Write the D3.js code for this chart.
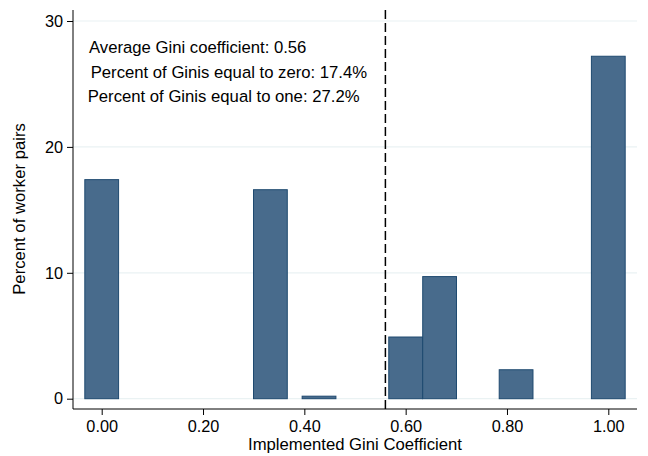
<!DOCTYPE html>
<html>
<head>
<meta charset="utf-8">
<script src="https://cdn.jsdelivr.net/npm/d3@7"></script>
<style>
  html, body { margin: 0; padding: 0; background: #fff; }
  svg text { font-family: "Liberation Sans", Arial, sans-serif; fill: #000; }
</style>
</head>
<body>
<svg id="chart" width="648" height="456"></svg>
<script>
// discrete Gini values and share of worker pairs (percent)
let giniValues = [0, 0.333, 0.429, 0.6, 0.667, 0.818, 1.0];
let percents = [17.4, 16.6, 0.2, 4.9, 9.7, 2.3, 27.2];

let xTicks = [0, 0.2, 0.4, 0.6, 0.8, 1.0];
let yTicks = [0, 10, 20, 30];

let meanGini = 0.56;
let notes = [
  'Average Gini coefficient: 0.56',
  'Percent of Ginis equal to zero: 17.4%',
  'Percent of Ginis equal to one: 27.2%'
];

// histogram bar width in data units
let binWidth = 1 / 15;

let svg = d3.select('#chart');

// plot region (pixels)
let plotL = 73, plotR = 637, plotT = 10, plotB = 409;

let x = d3.scaleLinear().domain([0, 1]).range([101.7, 608.3]);
let y = d3.scaleLinear().domain([0, 30]).range([398.7, 21]);

// gridlines
svg.append('g')
  .selectAll('line')
  .data(yTicks)
  .join('line')
  .attr('x1', plotL).attr('x2', plotR)
  .attr('y1', d => y(d)).attr('y2', d => y(d))
  .attr('stroke', '#eaf2f3')
  .attr('stroke-width', 1.2);

// bars
svg.append('g')
  .selectAll('rect')
  .data(giniValues)
  .join('rect')
  .attr('x', d => x(d - binWidth / 2))
  .attr('width', x(binWidth) - x(0))
  .attr('y', (d, i) => y(percents[i]))
  .attr('height', (d, i) => y(0) - y(percents[i]))
  .attr('fill', '#486b8c')
  .attr('stroke', '#1f4a70')
  .attr('stroke-width', 1);

// mean line
svg.append('line')
  .attr('x1', x(meanGini)).attr('x2', x(meanGini))
  .attr('y1', plotT).attr('y2', plotB)
  .attr('stroke', '#000')
  .attr('stroke-width', 1.5)
  .attr('stroke-dasharray', '9,4');

// y axis
let yAxis = svg.append('g')
  .attr('transform', `translate(${plotL},0)`)
  .call(d3.axisLeft(y).tickValues(yTicks).tickSize(6).tickPadding(4).tickSizeOuter(0));
yAxis.select('.domain').remove();
yAxis.append('line')
  .attr('y1', plotT).attr('y2', plotB)
  .attr('stroke', '#000');

// x axis
let xAxis = svg.append('g')
  .attr('transform', `translate(0,${plotB})`)
  .call(d3.axisBottom(x).tickValues(xTicks).tickFormat(d3.format('.2f')).tickSize(6).tickPadding(5).tickSizeOuter(0));
xAxis.select('.domain').remove();
xAxis.append('line')
  .attr('x1', plotL).attr('x2', plotR)
  .attr('stroke', '#000');

svg.selectAll('.tick line').attr('stroke', '#000');
svg.selectAll('.tick text').style('font-size', '16.3px').attr('fill', '#000');

// axis titles
svg.append('text')
  .attr('x', 355)
  .attr('y', 450)
  .attr('text-anchor', 'middle')
  .style('font-size', '16.7px')
  .text('Implemented Gini Coefficient');

svg.append('text')
  .attr('transform', 'translate(24.5,209) rotate(-90)')
  .attr('text-anchor', 'middle')
  .style('font-size', '16.7px')
  .text('Percent of worker pairs');

// notes
let noteX = [89, 90.7, 87.7];
let noteY = [52.5, 77.5, 101.7];
svg.append('g')
  .selectAll('text')
  .data(notes)
  .join('text')
  .attr('x', (d, i) => noteX[i])
  .attr('y', (d, i) => noteY[i])
  .style('font-size', '16.7px')
  .text(d => d);
</script>
</body>
</html>
